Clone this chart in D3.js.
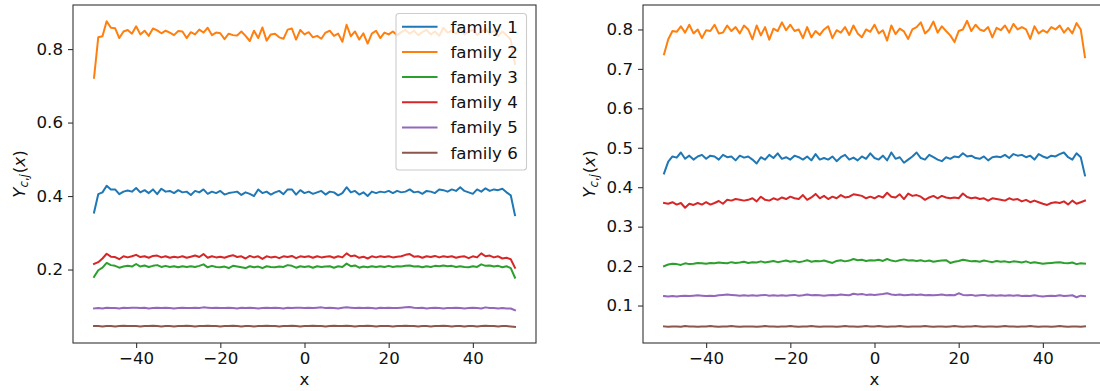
<!DOCTYPE html>
<html><head><meta charset="utf-8">
<script src="https://cdn.jsdelivr.net/npm/d3@7"></script>
<style>
body{margin:0;background:#fff}
svg{display:block}
text{font-family:"DejaVu Sans",sans-serif}
</style>
</head><body>
<svg id="chart" width="1100" height="391"></svg>
<script>
// ---------------- data ----------------
const families = ["family 1","family 2","family 3","family 4","family 5","family 6"];
const familyColors = ["#1f77b4","#ff7f0e","#2ca02c","#d62728","#9467bd","#8c564b"];
const xValues = d3.range(-50, 51, 1);
const xTicks = [-40,-20,0,20,40];
const leftYTicks = [0.2,0.4,0.6,0.8];
const rightYTicks = [0.1,0.2,0.3,0.4,0.5,0.6,0.7,0.8];
const xLabel = "x";

// Left panel
const leftFamily1 = [
0.355,0.405,0.410,0.428,0.418,0.418,0.405,0.412,0.415,0.412,
0.422,0.410,0.416,0.408,0.418,0.405,0.420,0.412,0.414,0.408,
0.416,0.410,0.412,0.403,0.414,0.410,0.418,0.406,0.412,0.408,
0.414,0.404,0.408,0.410,0.412,0.403,0.410,0.406,0.400,0.418,
0.408,0.412,0.404,0.410,0.414,0.405,0.418,0.418,0.404,0.416,
0.408,0.412,0.406,0.410,0.414,0.404,0.412,0.410,0.402,0.408,
0.424,0.410,0.414,0.404,0.410,0.400,0.412,0.408,0.412,0.410,
0.414,0.408,0.414,0.410,0.412,0.418,0.410,0.412,0.406,0.414,
0.412,0.408,0.418,0.416,0.412,0.418,0.414,0.424,0.414,0.410,
0.406,0.418,0.412,0.421,0.414,0.418,0.416,0.420,0.410,0.402,
0.348];
const leftFamily2 = [
0.722,0.832,0.835,0.876,0.858,0.857,0.830,0.848,0.852,0.842,
0.862,0.840,0.850,0.836,0.856,0.851,0.843,0.850,0.845,0.838,
0.849,0.848,0.830,0.846,0.840,0.853,0.845,0.858,0.838,0.845,
0.843,0.827,0.842,0.838,0.837,0.848,0.836,0.822,0.850,0.830,
0.859,0.823,0.840,0.842,0.832,0.828,0.853,0.856,0.826,0.852,
0.840,0.846,0.832,0.836,0.828,0.845,0.850,0.836,0.842,0.820,
0.866,0.835,0.848,0.826,0.843,0.815,0.842,0.850,0.830,0.845,
0.840,0.848,0.838,0.846,0.852,0.842,0.850,0.838,0.846,0.852,
0.840,0.848,0.836,0.858,0.845,0.850,0.842,0.855,0.840,0.848,
0.852,0.838,0.846,0.855,0.842,0.850,0.836,0.848,0.838,0.825,
0.760];
const leftFamily3 = [
0.180,0.198,0.205,0.218,0.212,0.210,0.205,0.208,0.210,0.208,
0.215,0.208,0.211,0.207,0.210,0.212,0.207,0.210,0.207,0.209,
0.206,0.209,0.207,0.209,0.207,0.210,0.214,0.206,0.210,0.207,
0.206,0.208,0.204,0.210,0.208,0.206,0.204,0.209,0.206,0.208,
0.204,0.209,0.207,0.206,0.208,0.207,0.212,0.210,0.205,0.209,
0.207,0.209,0.205,0.209,0.207,0.208,0.209,0.205,0.209,0.207,
0.216,0.209,0.211,0.205,0.208,0.206,0.209,0.207,0.209,0.207,
0.210,0.207,0.209,0.208,0.210,0.211,0.208,0.209,0.206,0.209,
0.207,0.210,0.209,0.211,0.209,0.210,0.207,0.209,0.207,0.206,
0.209,0.207,0.214,0.210,0.211,0.208,0.210,0.206,0.209,0.204,
0.178];
const leftFamily4 = [
0.215,0.220,0.230,0.243,0.235,0.234,0.228,0.236,0.233,0.236,
0.240,0.234,0.236,0.232,0.237,0.238,0.233,0.236,0.232,0.235,
0.233,0.236,0.232,0.235,0.238,0.234,0.242,0.232,0.236,0.233,
0.235,0.232,0.236,0.239,0.234,0.236,0.230,0.237,0.233,0.236,
0.229,0.236,0.233,0.235,0.231,0.236,0.234,0.237,0.231,0.236,
0.234,0.236,0.232,0.236,0.233,0.235,0.236,0.232,0.236,0.233,
0.244,0.236,0.238,0.232,0.235,0.230,0.236,0.233,0.236,0.234,
0.236,0.233,0.235,0.236,0.240,0.242,0.235,0.236,0.232,0.236,
0.234,0.237,0.233,0.236,0.234,0.236,0.232,0.235,0.236,0.231,
0.236,0.233,0.244,0.236,0.238,0.233,0.236,0.230,0.232,0.228,
0.205];
const leftFamily5 = [
0.094,0.095,0.094,0.096,0.095,0.095,0.094,0.096,0.095,0.096,
0.096,0.095,0.096,0.094,0.095,0.096,0.095,0.096,0.095,0.094,
0.095,0.096,0.095,0.095,0.096,0.095,0.097,0.096,0.095,0.096,
0.095,0.095,0.096,0.095,0.094,0.096,0.095,0.096,0.095,0.094,
0.095,0.096,0.095,0.096,0.095,0.094,0.096,0.095,0.096,0.096,
0.095,0.096,0.095,0.096,0.097,0.095,0.096,0.095,0.094,0.096,
0.097,0.096,0.095,0.096,0.095,0.096,0.095,0.094,0.096,0.095,
0.096,0.095,0.095,0.096,0.097,0.098,0.096,0.095,0.096,0.094,
0.095,0.096,0.095,0.094,0.095,0.095,0.096,0.095,0.094,0.095,
0.096,0.095,0.094,0.097,0.095,0.095,0.094,0.095,0.094,0.094,
0.089];
const leftFamily6 = [
0.046,0.046,0.045,0.046,0.046,0.045,0.046,0.047,0.046,0.046,
0.046,0.045,0.046,0.046,0.047,0.046,0.045,0.046,0.046,0.045,
0.046,0.046,0.047,0.046,0.045,0.046,0.046,0.047,0.046,0.046,
0.045,0.046,0.046,0.047,0.046,0.045,0.046,0.046,0.045,0.046,
0.046,0.047,0.046,0.046,0.045,0.046,0.046,0.047,0.046,0.045,
0.046,0.046,0.047,0.046,0.046,0.045,0.046,0.047,0.046,0.046,
0.047,0.046,0.045,0.046,0.046,0.047,0.046,0.045,0.046,0.046,
0.046,0.045,0.046,0.046,0.047,0.046,0.046,0.045,0.046,0.046,
0.045,0.046,0.046,0.047,0.046,0.045,0.046,0.046,0.045,0.046,
0.046,0.045,0.046,0.047,0.046,0.046,0.045,0.046,0.046,0.045,
0.044];

// Right panel
const rightFamily1 = [
0.435,0.465,0.478,0.475,0.488,0.472,0.480,0.470,0.478,0.482,
0.472,0.480,0.478,0.470,0.482,0.476,0.478,0.468,0.480,0.475,
0.478,0.470,0.460,0.476,0.470,0.482,0.474,0.486,0.472,0.476,
0.470,0.480,0.476,0.470,0.478,0.468,0.484,0.470,0.474,0.470,
0.478,0.466,0.476,0.482,0.470,0.475,0.468,0.478,0.472,0.486,
0.474,0.470,0.480,0.468,0.488,0.472,0.476,0.462,0.470,0.478,
0.488,0.474,0.470,0.482,0.476,0.470,0.466,0.476,0.472,0.478,
0.476,0.486,0.478,0.480,0.474,0.472,0.478,0.468,0.476,0.478,
0.476,0.482,0.474,0.484,0.480,0.482,0.476,0.480,0.470,0.484,
0.478,0.474,0.480,0.478,0.484,0.488,0.476,0.470,0.486,0.476,
0.430];
const rightFamily2 = [
0.737,0.775,0.796,0.794,0.808,0.792,0.812,0.790,0.800,0.778,
0.798,0.796,0.812,0.790,0.792,0.810,0.796,0.806,0.790,0.810,
0.800,0.775,0.810,0.785,0.806,0.774,0.802,0.796,0.818,0.798,
0.812,0.796,0.800,0.778,0.806,0.780,0.796,0.786,0.800,0.808,
0.778,0.798,0.792,0.806,0.786,0.810,0.790,0.780,0.800,0.794,
0.812,0.790,0.798,0.772,0.810,0.788,0.802,0.795,0.776,0.800,
0.806,0.818,0.790,0.800,0.820,0.792,0.808,0.796,0.785,0.768,
0.796,0.800,0.822,0.796,0.812,0.800,0.796,0.806,0.780,0.804,
0.798,0.810,0.792,0.814,0.800,0.806,0.800,0.776,0.808,0.790,
0.798,0.792,0.806,0.800,0.810,0.792,0.804,0.790,0.816,0.800,
0.730];
const rightFamily3 = [
0.200,0.204,0.206,0.205,0.203,0.207,0.205,0.206,0.208,0.207,
0.206,0.208,0.207,0.209,0.208,0.207,0.210,0.208,0.209,0.211,
0.208,0.210,0.209,0.212,0.209,0.211,0.213,0.210,0.212,0.214,
0.211,0.213,0.210,0.212,0.215,0.211,0.213,0.212,0.214,0.211,
0.208,0.213,0.215,0.212,0.214,0.218,0.215,0.216,0.213,0.215,
0.214,0.216,0.213,0.218,0.214,0.212,0.215,0.217,0.214,0.215,
0.213,0.215,0.212,0.214,0.211,0.213,0.214,0.215,0.208,0.211,
0.213,0.216,0.214,0.212,0.213,0.211,0.214,0.212,0.210,0.213,
0.211,0.212,0.210,0.212,0.211,0.209,0.212,0.208,0.210,0.208,
0.206,0.207,0.208,0.209,0.210,0.208,0.207,0.209,0.205,0.207,
0.206];
const rightFamily4 = [
0.360,0.358,0.362,0.356,0.360,0.348,0.358,0.355,0.360,0.356,
0.362,0.356,0.360,0.365,0.358,0.368,0.366,0.370,0.368,0.366,
0.368,0.372,0.364,0.376,0.368,0.366,0.372,0.368,0.374,0.370,
0.376,0.372,0.370,0.380,0.368,0.374,0.383,0.372,0.378,0.370,
0.376,0.372,0.380,0.374,0.376,0.382,0.380,0.378,0.372,0.376,
0.372,0.378,0.374,0.386,0.376,0.374,0.382,0.370,0.384,0.378,
0.380,0.376,0.368,0.374,0.378,0.372,0.378,0.374,0.372,0.374,
0.372,0.384,0.375,0.372,0.374,0.370,0.372,0.366,0.372,0.370,
0.368,0.366,0.372,0.368,0.370,0.364,0.368,0.362,0.366,0.362,
0.358,0.355,0.360,0.362,0.360,0.364,0.356,0.366,0.358,0.362,
0.366];
const rightFamily5 = [
0.124,0.123,0.124,0.123,0.124,0.125,0.124,0.125,0.126,0.125,
0.124,0.125,0.124,0.126,0.127,0.128,0.127,0.126,0.125,0.126,
0.125,0.126,0.125,0.126,0.127,0.125,0.126,0.125,0.126,0.125,
0.126,0.127,0.125,0.126,0.128,0.126,0.127,0.126,0.125,0.126,
0.127,0.126,0.128,0.127,0.126,0.130,0.128,0.129,0.127,0.128,
0.127,0.128,0.129,0.131,0.128,0.127,0.128,0.126,0.127,0.128,
0.127,0.128,0.126,0.127,0.126,0.127,0.128,0.126,0.127,0.126,
0.131,0.127,0.126,0.127,0.125,0.126,0.127,0.125,0.126,0.125,
0.126,0.125,0.126,0.125,0.126,0.124,0.125,0.124,0.126,0.124,
0.123,0.124,0.125,0.124,0.126,0.124,0.125,0.126,0.121,0.125,
0.124];
const rightFamily6 = [
0.047,0.046,0.047,0.047,0.046,0.048,0.047,0.047,0.046,0.047,
0.047,0.048,0.047,0.046,0.047,0.047,0.048,0.047,0.046,0.047,
0.047,0.047,0.046,0.047,0.048,0.047,0.047,0.046,0.047,0.047,
0.048,0.047,0.046,0.047,0.047,0.048,0.047,0.046,0.047,0.047,
0.047,0.046,0.047,0.048,0.047,0.047,0.046,0.047,0.048,0.047,
0.047,0.048,0.047,0.046,0.047,0.047,0.048,0.047,0.046,0.047,
0.047,0.047,0.048,0.047,0.046,0.047,0.047,0.046,0.047,0.048,
0.047,0.046,0.047,0.047,0.048,0.047,0.046,0.047,0.047,0.046,
0.047,0.048,0.047,0.047,0.046,0.047,0.047,0.048,0.047,0.046,
0.047,0.047,0.046,0.047,0.048,0.047,0.046,0.047,0.047,0.046,
0.047];

// ---------------- drawing ----------------
const FS = 16.67;
const AX = "#333";
const svg = d3.select("#chart");
svg.append("rect").attr("width",1100).attr("height",391).attr("fill","#fff");

const panels = [
  {left:73, right:536, top:5, bottom:343, yDomain:[0,0.92], yTicks:leftYTicks,
   series:[leftFamily1,leftFamily2,leftFamily3,leftFamily4,leftFamily5,leftFamily6],
   legend:true, ylabelX:24.5},
  {left:643, right:1106, top:5, bottom:343, yDomain:[0.005,0.862], yTicks:rightYTicks,
   series:[rightFamily1,rightFamily2,rightFamily3,rightFamily4,rightFamily5,rightFamily6],
   legend:false, ylabelX:594.5}
];

panels.forEach(p => {
  const x = d3.scaleLinear().domain([-55,55]).range([p.left,p.right]);
  const y = d3.scaleLinear().domain(p.yDomain).range([p.bottom,p.top]);
  const g = svg.append("g");

  const line = d3.line().x((d,i)=>x(xValues[i])).y(d=>y(d));
  p.series.forEach((s,k)=>{
    g.append("path").datum(s).attr("d",line)
      .attr("fill","none").attr("stroke",familyColors[k])
      .attr("stroke-width",2).attr("stroke-linejoin","round").attr("stroke-linecap","square");
  });

  // axes
  const xa = g.append("g").attr("transform",`translate(0,${p.bottom})`)
    .call(d3.axisBottom(x).tickValues(xTicks).tickSize(5).tickPadding(4.5).tickSizeOuter(0));
  const ya = g.append("g").attr("transform",`translate(${p.left},0)`)
    .call(d3.axisLeft(y).tickValues(p.yTicks).tickFormat(d3.format(".1f")).tickSize(5).tickPadding(5).tickSizeOuter(0));
  [xa,ya].forEach(a=>{
    a.select(".domain").remove();
    a.selectAll(".tick line").attr("stroke",AX).attr("stroke-width",1.1);
    a.selectAll(".tick text").attr("font-size",FS).attr("fill","#111")
      .attr("font-family","DejaVu Sans");
  });

  // spines
  g.append("rect").attr("x",p.left).attr("y",p.top)
    .attr("width",p.right-p.left).attr("height",p.bottom-p.top)
    .attr("fill","none").attr("stroke",AX).attr("stroke-width",1.1);

  // x label
  g.append("text").attr("x",x(0)).attr("y",385).attr("text-anchor","middle")
    .attr("font-size",FS).attr("fill","#111").text(xLabel);

  // y label Y_{c,j}(x)
  const yl = g.append("text")
    .attr("transform",`translate(${p.ylabelX},${(p.top+p.bottom)/2}) rotate(-90)`)
    .attr("text-anchor","middle").attr("font-size",FS).attr("fill","#111");
  yl.append("tspan").attr("font-style","italic").text("Y");
  yl.append("tspan").attr("font-style","italic").attr("font-size",FS*0.7).attr("dy",FS*0.22).text("c");
  yl.append("tspan").attr("font-size",FS*0.7).text(",");
  yl.append("tspan").attr("font-style","italic").attr("font-size",FS*0.7).text("j");
  yl.append("tspan").attr("dy",-FS*0.22).attr("dx",1).text("(");
  yl.append("tspan").attr("font-style","italic").text("x");
  yl.append("tspan").text(")");

  if (p.legend) {
    const lg = g.append("g");
    lg.append("rect").attr("x",396).attr("y",13.5).attr("width",130.5).attr("height",156.5)
      .attr("rx",3).attr("fill","#fff").attr("fill-opacity",0.8)
      .attr("stroke","#cccccc").attr("stroke-width",1.1);
    families.forEach((f,k)=>{
      const yy = 26.7 + k*25.2;
      lg.append("line").attr("x1",402).attr("x2",437.5).attr("y1",yy).attr("y2",yy)
        .attr("stroke",familyColors[k]).attr("stroke-width",2);
      lg.append("text").attr("x",450.5).attr("y",yy).attr("dy","0.35em")
        .attr("font-size",FS).attr("fill","#111").text(f);
    });
  }
});
</script>
</body></html>
